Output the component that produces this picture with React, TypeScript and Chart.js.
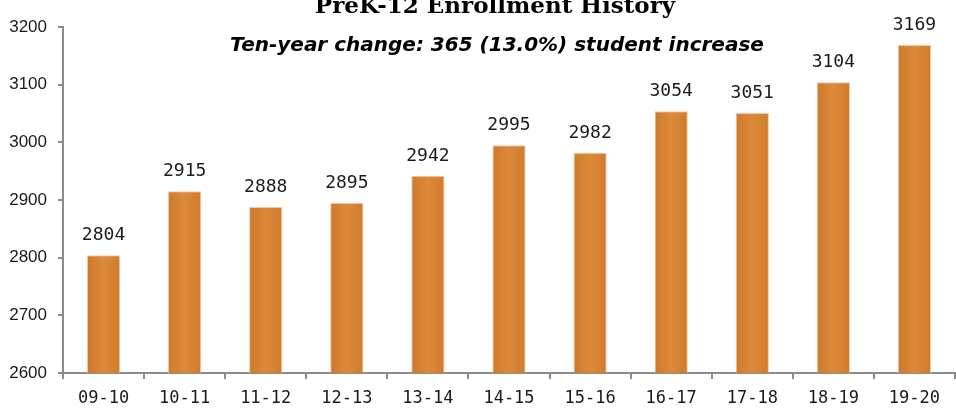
import React, { useEffect, useRef } from "react";
import { Chart, registerables } from "chart.js";

Chart.register(...registerables);

const categories = ["09-10", "10-11", "11-12", "12-13", "13-14", "14-15", "15-16", "16-17", "17-18", "18-19", "19-20"];
const enrollment = [2804, 2915, 2888, 2895, 2942, 2995, 2982, 3054, 3051, 3104, 3169];
const yTicks = [2600, 2700, 2800, 2900, 3000, 3100, 3200];
const titleText = "PreK-12 Enrollment History";
const subtitleText = "Ten-year change: 365 (13.0%) student increase";

const barLabels = {
  id: "barLabels",
  afterDatasetsDraw(chart: any) {
    const ctx = chart.ctx;
    const meta = chart.getDatasetMeta(0);
    ctx.save();
    ctx.font = '18px "DejaVu Sans Mono"';
    ctx.fillStyle = "#1a1a1a";
    ctx.textAlign = "center";
    ctx.textBaseline = "alphabetic";
    meta.data.forEach((el: any, i: number) => {
      ctx.fillText(String(enrollment[i]), el.x, el.y - 15);
    });
    ctx.restore();
  },
};

const titles = {
  id: "titles",
  afterDraw(chart: any) {
    const ctx = chart.ctx;
    ctx.save();
    ctx.fillStyle = "#000";
    ctx.textAlign = "center";
    ctx.textBaseline = "alphabetic";
    ctx.font = 'bold 23px "DejaVu Serif"';
    ctx.fillText(titleText, 495, 13);
    ctx.font = 'italic bold 20px "DejaVu Sans"';
    ctx.fillText(subtitleText, 497, 51);
    ctx.restore();
  },
};

export default function App() {
  const ref = useRef<HTMLCanvasElement>(null);
  useEffect(() => {
    if (!ref.current) return;
    const chart = new Chart(ref.current, {
      type: "bar",
      data: {
        labels: categories,
        datasets: [
          {
            data: enrollment,
            barPercentage: 0.41,
            categoryPercentage: 1,
            borderWidth: 1,
            borderColor: "rgba(236,196,156,0.9)",
            backgroundColor: (c: any) => {
              const xs = c.chart.scales?.x;
              if (!xs || c.dataIndex == null) return "#d8822e";
              const cx = xs.getPixelForValue(c.dataIndex);
              if (!Number.isFinite(cx)) return "#d8822e";
              const half = 17;
              const g = c.chart.ctx.createLinearGradient(cx - half, 0, cx + half, 0);
              g.addColorStop(0, "#cf7a2a");
              g.addColorStop(0.5, "#dc893a");
              g.addColorStop(1, "#d07b2b");
              return g;
            },
          },
        ],
      },
      options: {
        animation: false,
        responsive: false,
        maintainAspectRatio: false,
        layout: { padding: { top: 27, left: 0, right: 1, bottom: 0 } },
        plugins: {
          legend: { display: false },
          tooltip: { enabled: false },
          title: { display: false },
        },
        scales: {
          x: {
            offset: true,
            grid: {
              offset: true,
              drawOnChartArea: false,
              drawTicks: true,
              tickLength: 6,
              color: "#8c8c8c",
              lineWidth: 2,
            },
            border: { color: "#8c8c8c", width: 2 },
            ticks: {
              color: "#1a1a1a",
              font: { family: '"DejaVu Sans Mono"', size: 17 },
              padding: 9,
              maxRotation: 0,
              autoSkip: false,
            },
            afterFit: (s: any) => {
              s.height = 38;
            },
          },
          y: {
            min: 2600,
            max: 3200,
            afterBuildTicks: (s: any) => {
              s.ticks = yTicks.map((v) => ({ value: v }));
            },
            grid: {
              drawOnChartArea: false,
              drawTicks: true,
              tickLength: 5,
              color: "#8c8c8c",
              lineWidth: 2,
            },
            border: { color: "#8c8c8c", width: 2 },
            ticks: {
              color: "#1a1a1a",
              font: { family: '"Liberation Sans"', size: 17 },
              padding: 11,
              callback: (v: any) => String(v),
            },
            afterFit: (s: any) => {
              s.width = 63;
            },
          },
        },
      },
      plugins: [barLabels, titles],
    });
    return () => chart.destroy();
  }, []);
  return (
    <div style={{ position: "fixed", left: 0, top: 0, width: 956, height: 411, background: "#fff" }}>
      <canvas ref={ref} width={956} height={411} style={{ display: "block" }} />
    </div>
  );
}
